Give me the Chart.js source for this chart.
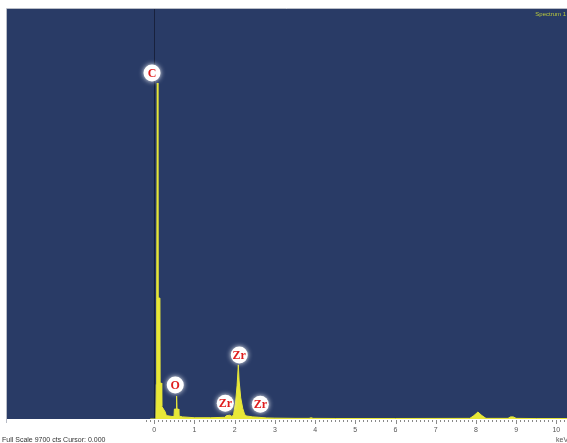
<!DOCTYPE html>
<html>
<head>
<meta charset="utf-8">
<script src="https://cdn.jsdelivr.net/npm/chart.js@4.4.1/dist/chart.umd.min.js"></script>
<style>
  html, body { margin: 0; padding: 0; background: #ffffff; }
  canvas { display: block; }
</style>
</head>
<body>
<canvas id="spec" width="567" height="443"></canvas>
<script>
// EDS spectrum: energy (keV) and counts per channel
const energyKeV = [-0.10, 0.04, 0.05, 0.06, 0.075, 0.09, 0.14, 0.145, 0.175, 0.185, 0.27, 0.30, 0.44,
  0.49, 0.50, 0.545, 0.555, 0.565, 0.60, 0.61, 0.70, 1.00, 1.40, 1.75, 1.80, 1.88, 1.93, 1.97,
  2.02, 2.06, 2.09, 2.11, 2.15, 2.20, 2.25, 2.30, 2.45, 2.60, 2.80, 3.00, 3.50, 3.85, 3.90, 3.95,
  4.50, 6.00, 7.85, 7.95, 8.05, 8.15, 8.25, 8.80, 8.86, 8.93, 9.00, 9.50, 10.30];
const counts = [0, 0, 820, 2860, 7950, 2860, 2860, 850, 850, 300, 170, 80, 60,
  60, 235, 235, 545, 235, 235, 70, 50, 30, 30, 40, 80, 90, 60, 100,
  380, 800, 1280, 900, 500, 250, 100, 70, 50, 40, 25, 20, 15, 15, 30, 15,
  12, 12, 15, 80, 165, 80, 15, 15, 50, 50, 15, 10, 10];

// Axis ticks (keV)
const majorTicks = [0, 1, 2, 3, 4, 5, 6, 7, 8, 9, 10];
const fullScaleCts = 9700;
const cursorKeV = 0.000;

// Element markers: symbol, energy (keV), counts where the marker sits
const markerSymbols = ['C', 'O', 'Zr', 'Zr', 'Zr'];
const markerKeV = [-0.057, 0.522, 2.114, 1.766, 2.637];
const markerCounts = [8186, 804, 1514, 371, 348];

const spectrumPoints = energyKeV.map((e, i) => ({ x: e, y: counts[i] }));

const BG = '#293b66';
const YELLOW = '#e8e838';

const decor = {
  id: 'edsDecor',
  beforeDraw(chart) {
    const { ctx, chartArea: a } = chart;
    ctx.save();
    ctx.fillStyle = '#ffffff';
    ctx.fillRect(0, 0, chart.width, chart.height);
    ctx.fillStyle = BG;
    ctx.fillRect(a.left, a.top, a.right - a.left, a.bottom - a.top);
    ctx.strokeStyle = '#b8bcc6';
    ctx.lineWidth = 1;
    ctx.beginPath();
    ctx.moveTo(a.left - 0.5, a.top - 0.5);
    ctx.lineTo(a.right, a.top - 0.5);
    ctx.moveTo(a.left - 0.5, a.top - 0.5);
    ctx.lineTo(a.left - 0.5, a.bottom + 4);
    ctx.stroke();
    ctx.restore();
  },
  beforeDatasetsDraw(chart) {
    const { ctx, chartArea: a, scales: { x } } = chart;
    const cx = Math.round(x.getPixelForValue(cursorKeV)) + 0.5;
    ctx.save();
    ctx.strokeStyle = '#18213d';
    ctx.lineWidth = 1;
    ctx.beginPath();
    ctx.moveTo(cx, a.top);
    ctx.lineTo(cx, a.bottom);
    ctx.stroke();
    ctx.restore();
  },
  afterDraw(chart) {
    const { ctx, chartArea: a, scales: { x, y } } = chart;
    ctx.save();
    // minor and major ticks
    ctx.strokeStyle = '#8a8a8a';
    ctx.lineWidth = 1;
    ctx.beginPath();
    for (let k = -2; k <= 102; k++) {
      const v = k / 10;
      const px = Math.round(x.getPixelForValue(v)) + 0.5;
      const len = (k % 10 === 0) ? 4 : 2;
      ctx.moveTo(px, a.bottom + 1);
      ctx.lineTo(px, a.bottom + 1 + len);
    }
    ctx.stroke();
    // tick labels
    ctx.fillStyle = '#555555';
    ctx.font = '7px "Liberation Sans", Arial, sans-serif';
    ctx.textAlign = 'center';
    ctx.textBaseline = 'middle';
    majorTicks.forEach(t => {
      ctx.fillText(String(t), x.getPixelForValue(t), a.bottom + 11);
    });
    ctx.textAlign = 'left';
    ctx.fillText('keV', 556, 440);
    ctx.fillStyle = '#333333';
    ctx.fillText('Full Scale ' + fullScaleCts + ' cts Cursor: ' + cursorKeV.toFixed(3), 2, 440);
    // spectrum title
    ctx.fillStyle = '#b9c83c';
    ctx.font = '6px "Liberation Sans", Arial, sans-serif';
    ctx.textAlign = 'right';
    ctx.fillText('Spectrum 1', 566, 14);
    // element markers
    markerSymbols.forEach((s, i) => {
      const px = x.getPixelForValue(markerKeV[i]);
      const py = y.getPixelForValue(markerCounts[i]);
      ctx.save();
      ctx.shadowColor = 'rgba(255,255,255,0.95)';
      ctx.shadowBlur = 5;
      ctx.fillStyle = '#ffffff';
      ctx.beginPath();
      ctx.arc(px, py, 8.5, 0, Math.PI * 2);
      ctx.fill();
      ctx.restore();
      ctx.fillStyle = '#e01e1e';
      ctx.font = 'bold 12px "Liberation Serif", "Times New Roman", serif';
      ctx.textAlign = 'center';
      ctx.textBaseline = 'middle';
      ctx.fillText(s, px, py + 0.5);
    });
    ctx.restore();
  }
};

new Chart(document.getElementById('spec'), {
  type: 'line',
  data: {
    datasets: [{
      label: 'Spectrum 1',
      data: spectrumPoints,
      borderColor: YELLOW,
      backgroundColor: YELLOW,
      borderWidth: 1,
      pointRadius: 0,
      tension: 0,
      fill: 'origin'
    }]
  },
  options: {
    responsive: false,
    devicePixelRatio: 1,
    animation: false,
    events: [],
    layout: { padding: { left: 7, top: 9, right: 0, bottom: 24 } },
    plugins: { legend: { display: false }, tooltip: { enabled: false } },
    scales: {
      x: { type: 'linear', min: -3.664, max: 10.266, display: false },
      y: { type: 'linear', min: 0, max: fullScaleCts, display: false }
    }
  },
  plugins: [decor]
});
</script>
</body>
</html>
